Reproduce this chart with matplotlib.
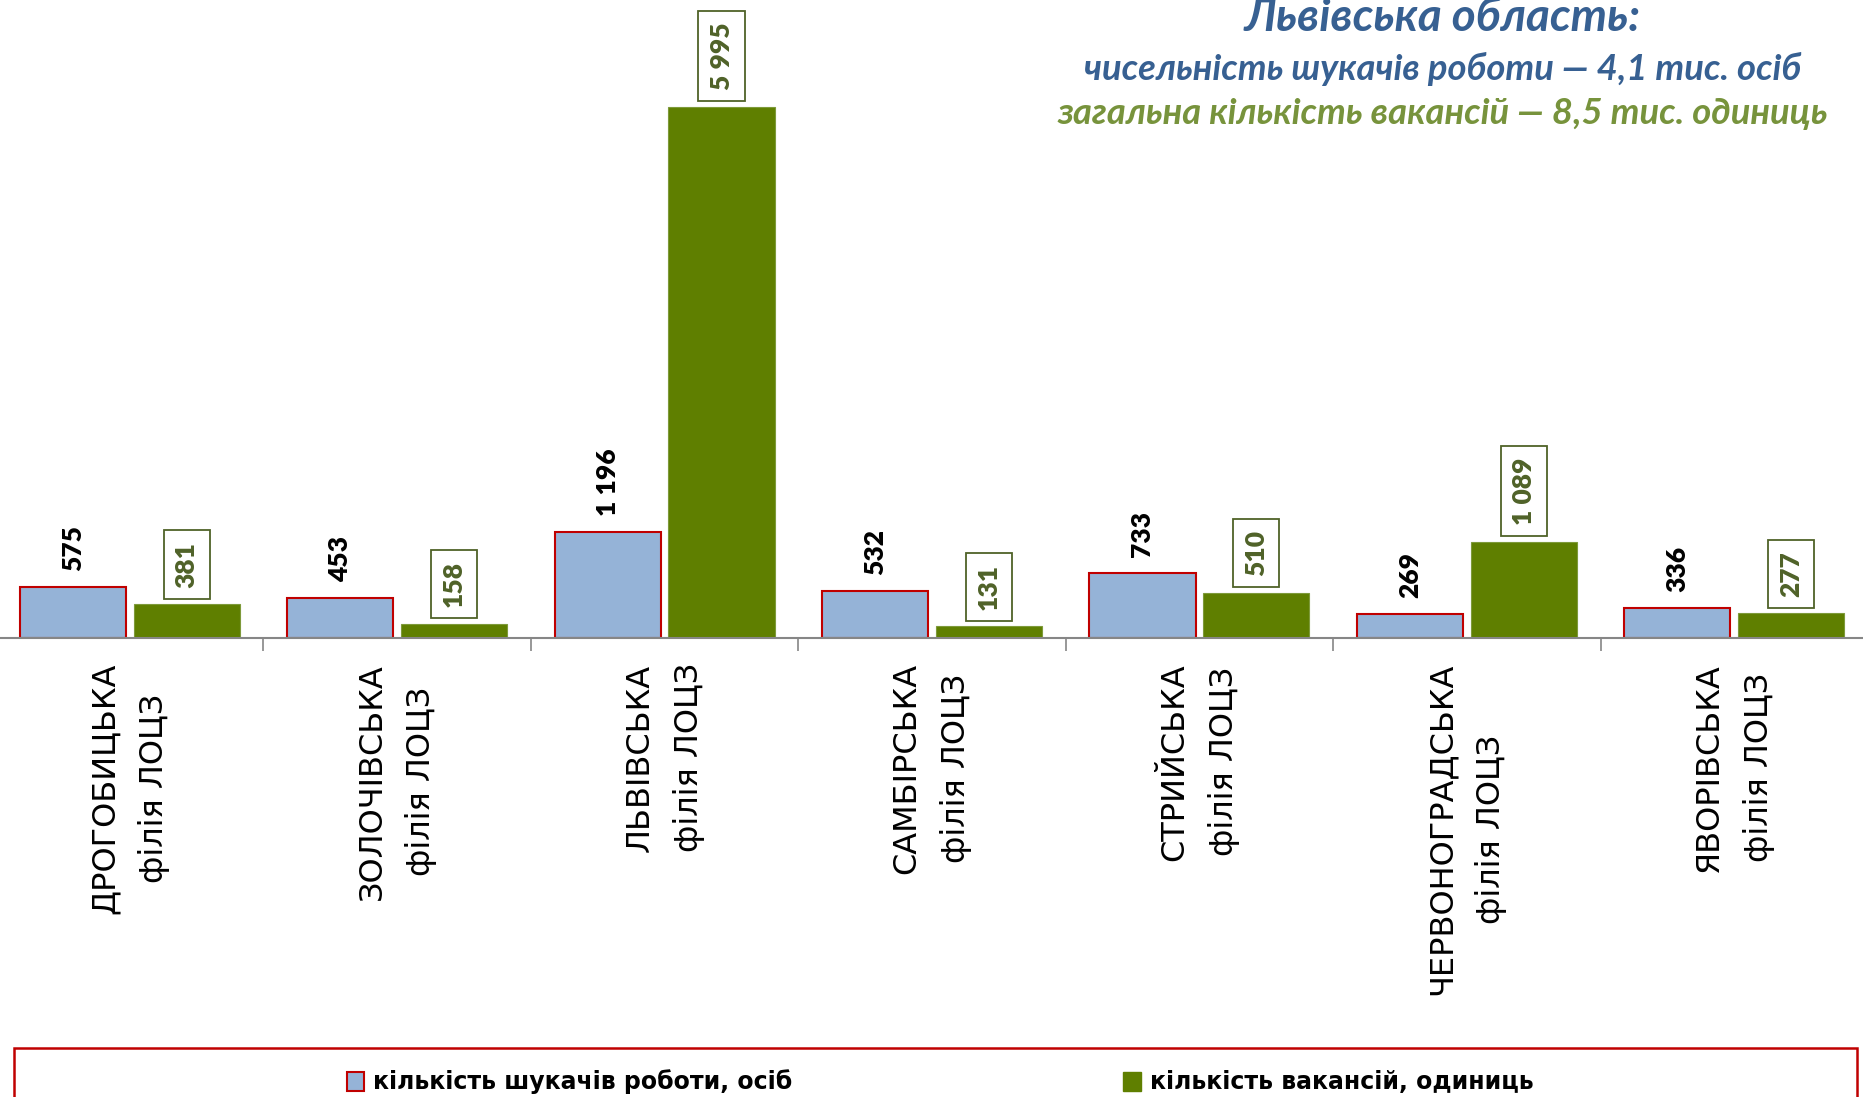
import matplotlib
matplotlib.use('Agg')
import matplotlib.pyplot as plt
import numpy as np
from matplotlib.patches import Rectangle, Patch

# дані
branches = ['ДРОГОБИЦЬКА\nфілія ЛОЦЗ', 'ЗОЛОЧІВСЬКА\nфілія ЛОЦЗ', 'ЛЬВІВСЬКА\nфілія ЛОЦЗ',
            'САМБІРСЬКА\nфілія ЛОЦЗ', 'СТРИЙСЬКА\nфілія ЛОЦЗ', 'ЧЕРВОНОГРАДСЬКА\nфілія ЛОЦЗ',
            'ЯВОРІВСЬКА\nфілія ЛОЦЗ']
seekers = [575, 453, 1196, 532, 733, 269, 336]
vacancies = [381, 158, 5995, 131, 510, 1089, 277]
series_names = ['кількість шукачів роботи, осіб', 'кількість вакансій, одиниць']
title_lines = ['Львівська область:',
               'чисельність шукачів роботи — 4,1 тис. осіб',
               'загальна кількість вакансій — 8,5 тис. одиниць']

plt.rcParams['font.family'] = ['DejaVu Sans']

W, H = 1863, 1097
base = 638
fig = plt.figure(figsize=(W / 100, H / 100), dpi=100)
ax = fig.add_axes([-4 / W, (H - base) / H, 1872 / W, base / H])

x = np.arange(len(branches))
bw = 0.397
ax.bar(x - 0.213, seekers, bw, color='#95B3D7', edgecolor='#C00000', linewidth=1.5)
ax.bar(x + 0.213, vacancies, bw, color='#5F7F00', edgecolor='#7E9A3A', linewidth=0.8)
ax.set_xlim(-0.5, len(branches) - 0.5)
ax.set_ylim(0, 7200)

for s in ['top', 'left', 'right']:
    ax.spines[s].set_visible(False)
ax.spines['bottom'].set_color('#868686')
ax.spines['bottom'].set_linewidth(1.5)
ax.set_yticks([])
ax.set_xticks(np.arange(0.5, len(branches) - 0.5, 1))
ax.set_xticklabels([])
ax.tick_params(axis='x', direction='out', length=9, width=1.2, color='#868686')


def fmt(v):
    return f'{v:,}'.replace(',', ' ')


for i, name in enumerate(branches):
    ax.annotate(name, xy=(i, 0), xytext=(0, -18), textcoords='offset points',
                rotation=90, ha='center', va='top', multialignment='center',
                fontsize=23, color='black', linespacing=1.7, annotation_clip=False)

for i, v in enumerate(seekers):
    ax.annotate(fmt(v), xy=(i - 0.213, v), xytext=(0, 11.5), textcoords='offset points',
                rotation=90, ha='center', va='bottom', fontsize=19, fontweight='heavy',
                family=['Lato', 'DejaVu Sans'], color='black')

for i, v in enumerate(vacancies):
    ax.annotate(fmt(v), xy=(i + 0.213, v), xytext=(0, 12), textcoords='offset points',
                rotation=90, ha='center', va='bottom', fontsize=19, fontweight='heavy',
                family=['Lato', 'DejaVu Sans'], color='#4F6228',
                bbox=dict(boxstyle='square,pad=0.42', fc='white', ec='#4F6228', lw=1.3))

# заголовок
cx = 1443 / W
fig.text(cx, 1 - 31 / H, title_lines[0], ha='center', va='baseline', fontsize=33,
         fontweight='bold', style='italic', color='#376092', family=['Lato', 'DejaVu Sans'])
fig.text(cx, 1 - 80 / H, title_lines[1], ha='center', va='baseline', fontsize=26.2,
         fontweight='bold', style='italic', color='#376092', family=['Lato', 'DejaVu Sans'])
fig.text(cx, 1 - 124 / H, title_lines[2], ha='center', va='baseline', fontsize=26.2,
         fontweight='bold', style='italic', color='#77933C', family=['Lato', 'DejaVu Sans'])

# легенда
fig.add_artist(Rectangle((14 / W, -0.05), (1857 - 14) / W, 0.05 + (H - 1048) / H,
                         transform=fig.transFigure, fill=False, ec='#C00000', lw=1.8))
handles = [Patch(fc='#95B3D7', ec='#C00000', lw=1.5), Patch(fc='#5F7F00', ec='#5F7F00')]
fig.legend(handles, series_names, loc='center', bbox_to_anchor=(940 / W, 1 - 1082 / H),
           ncol=2, frameon=False, prop={'weight': 'bold', 'size': 17},
           handlelength=0.75, handleheight=0.85, handletextpad=0.38, columnspacing=14.0)

fig.savefig('out.png', dpi=100)
